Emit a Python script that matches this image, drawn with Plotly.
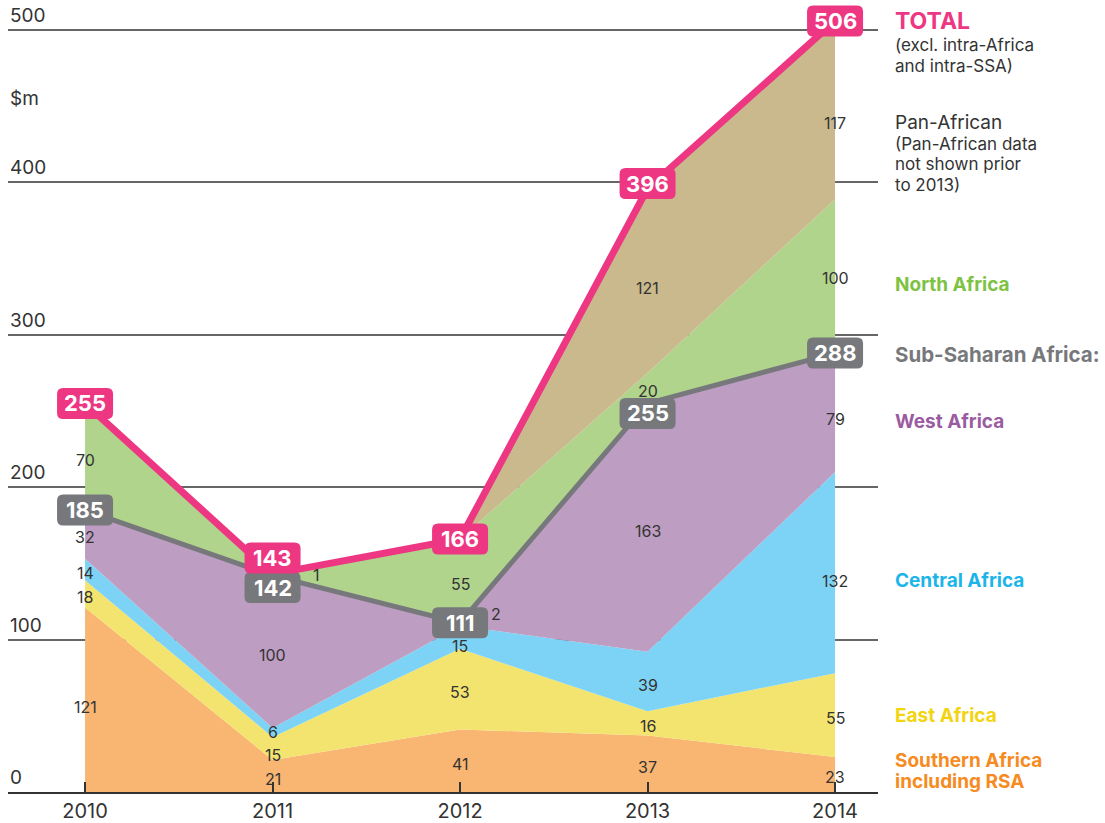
import plotly.graph_objects as go

years = [2010, 2011, 2012, 2013, 2014]
southern = [121, 21, 41, 37, 23]
east = [18, 15, 53, 16, 55]
central = [14, 6, 15, 39, 132]
west = [32, 100, 2, 163, 79]
north = [70, 1, 55, 20, 100]
pan_african = [0, 0, 0, 121, 117]
ssa_total = [185, 142, 111, 255, 288]
grand_total = [255, 143, 166, 396, 506]
y_ticks = [0, 100, 200, 300, 400, 500]

FONT = "Inter"
PINK = "#EE3782"
GRAY = "#77787B"

series = [
    ("Southern Africa", southern, "#F9B572"),
    ("East Africa", east, "#F3E46F"),
    ("Central Africa", central, "#7DD3F5"),
    ("West Africa", west, "#BD9DC1"),
    ("North Africa", north, "#B1D48C"),
    ("Pan-African", pan_african, "#C9B98D"),
]

fig = go.Figure()
for name, vals, col in series:
    fig.add_trace(go.Scatter(
        x=years, y=vals, name=name, mode="lines", stackgroup="one",
        line=dict(width=0, color=col), fillcolor=col, hoverinfo="skip",
        showlegend=False))

fig.add_trace(go.Scatter(x=years, y=ssa_total, mode="lines",
                         line=dict(color=GRAY, width=5), showlegend=False, hoverinfo="skip"))
fig.add_trace(go.Scatter(x=years, y=grand_total, mode="lines",
                         line=dict(color=PINK, width=7), showlegend=False, hoverinfo="skip"))

annotations = []
shapes = []

# segment value labels
special = {("North Africa", 2011): (44, 0), ("West Africa", 2012): (36, 10),
           ("Central Africa", 2012): (0, -9), ("Central Africa", 2011): (0, 1),
           ("East Africa", 2011): (0, -6), ("Southern Africa", 2010): (0, -7),
           ("Pan-African", 2014): (0, -13), ("Pan-African", 2013): (0, -7),
           ("Central Africa", 2014): (0, -8), ("West Africa", 2014): (0, -7)}
for i, yr in enumerate(years):
    base = 0
    for name, vals, col in series:
        v = vals[i]
        if v > 0:
            mid = base + v / 2
            xs, ys = special.get((name, yr), (0, -3))
            annotations.append(dict(x=yr, y=mid, xref="x", yref="y", text=str(v),
                                    showarrow=False, xshift=xs, yshift=ys,
                                    font=dict(family=FONT, size=16, color="#333333")))
        base += v


def rounded_box(x, y, color, text, yshift):
    w, h, r = 28, 15.5, 6
    x0, x1 = -w, w
    y0, y1 = yshift - h, yshift + h
    path = (f"M{x0 + r},{y0} L{x1 - r},{y0} Q{x1},{y0} {x1},{y0 + r} "
            f"L{x1},{y1 - r} Q{x1},{y1} {x1 - r},{y1} L{x0 + r},{y1} "
            f"Q{x0},{y1} {x0},{y1 - r} L{x0},{y0 + r} Q{x0},{y0} {x0 + r},{y0} Z")
    shapes.append(dict(type="path", xref="x", yref="y", xsizemode="pixel",
                       ysizemode="pixel", xanchor=x, yanchor=y, path=path,
                       fillcolor=color, line=dict(width=0), layer="above"))
    annotations.append(dict(x=x, y=y, xref="x", yref="y", text=f"<b>{text}</b>",
                            showarrow=False, yshift=yshift,
                            font=dict(family=FONT, size=22, color="white")))


gray_shift = {2011: -12, 2013: -10}
pink_shift = {2011: 16, 2013: 5}
for i, yr in enumerate(years):
    rounded_box(yr, ssa_total[i], GRAY, ssa_total[i], gray_shift.get(yr, 0))
for i, yr in enumerate(years):
    rounded_box(yr, grand_total[i], PINK, grand_total[i], pink_shift.get(yr, 0))

# y tick labels above gridlines
for t in y_ticks:
    annotations.append(dict(x=0, y=t, xref="paper", yref="y", text=str(t),
                            xanchor="left", yanchor="bottom", showarrow=False, yshift=1,
                            font=dict(family=FONT, size=19, color="#333333")))
annotations.append(dict(x=0, y=455, xref="paper", yref="y", text="$m",
                        xanchor="left", yanchor="middle", showarrow=False,
                        font=dict(family=FONT, size=19, color="#333333")))

# right side legend (one annotation per line)
LX = 1 + 15 / 870
legend_items = [
    ("<b>TOTAL</b>", 506, PINK, 23),
    ("(excl. intra-Africa", 490.2, "#333333", 17),
    ("and intra-SSA)", 476.4, "#333333", 17),
    ("Pan-African", 439, "#333333", 19),
    ("(Pan-African data", 425.2, "#333333", 17),
    ("not shown prior", 412.1, "#333333", 17),
    ("to 2013)", 398.4, "#333333", 17),
    ("<b>North Africa</b>", 333, "#7DC242", 19),
    ("<b>Sub-Saharan Africa:</b>", 287.4, GRAY, 20.5),
    ("<b>West Africa</b>", 243.4, "#9A5BA1", 19),
    ("<b>Central Africa</b>", 138.5, "#1CB5EA", 19),
    ("<b>East Africa</b>", 49.9, "#F2D410", 19),
    ("<b>Southern Africa</b>", 21, "#F68B1F", 19),
    ("<b>including RSA</b>", 7.2, "#F68B1F", 19),
]
for text, yv, col, size in legend_items:
    annotations.append(dict(x=LX, y=yv, xref="paper", yref="y", text=text,
                            xanchor="left", yanchor="middle", align="left",
                            showarrow=False,
                            font=dict(family=FONT, size=size, color=col)))

fig.update_layout(
    width=1105, height=823,
    margin=dict(l=8, r=227, t=0, b=31, autoexpand=False),
    paper_bgcolor="white", plot_bgcolor="white",
    annotations=annotations, shapes=shapes,
    xaxis=dict(range=[2009.589, 2014.229], tickvals=years, ticktext=[str(y) for y in years],
               ticks="inside", ticklen=10, tickcolor="#333333", tickwidth=1.5,
               showline=True, linecolor="#333333", linewidth=2, showgrid=False,
               zeroline=False, tickfont=dict(family=FONT, size=20, color="#333333"),
               fixedrange=True),
    yaxis=dict(range=[0, 519.7], tickvals=y_ticks[1:], showticklabels=False,
               showgrid=True, gridcolor="#666666", gridwidth=1.5, zeroline=False,
               showline=False, fixedrange=True),
    hovermode=False,
)

fig.write_html("out.html", config={"displayModeBar": False},
               post_script="document.body.style.margin='0';document.body.style.overflow='hidden';")
